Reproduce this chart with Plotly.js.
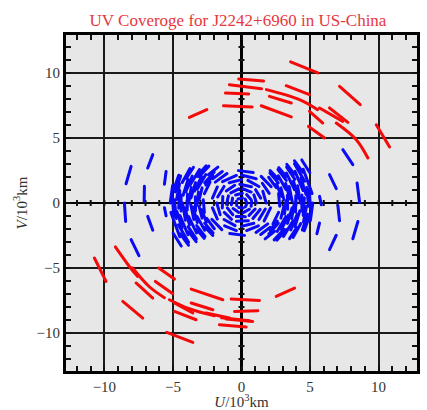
<!DOCTYPE html>
<html><head><meta charset="utf-8">
<script src="https://cdn.plot.ly/plotly-3.0.1.min.js"></script>
<style>
html,body{margin:0;padding:0;background:#fff;}
#chart{width:427px;height:410px;}
.scatterlayer path.js-line{stroke-linecap:round;}
</style>
</head><body><div id="chart"></div>
<script>
// Red tracks (long baselines), u and v in 10^3 km; null separates segments
const redU = [
  3.58,5.57,null, -0.2,1.61,null, -0.88,1.46,null, 1.82,4.23,5.55,null,
  -1.17,0.53,null, -1.31,0.78,null, 1.44,3.63,null, 2.04,3.63,null,
  3.26,4.96,null, 7.15,8.66,null, 4.96,5.93,null, 4.89,6.06,null,
  5.69,7.39,null, 6.42,7.76,null, 6.91,8.37,9.22,null, 9.83,10.8,null,
  -3.8,-2.53,null,
  -10.73,-9.88,null, -9.2,-8.18,-7.57,null, -7.96,-6.72,-5.62,null,
  -5.26,-3.8,-1.97,null, -1.46,0.58,null, -7.69,-6.47,null, -8.66,-7.2,null,
  -6.04,-4.89,null, -6.28,-5.01,null, -4.89,-3.55,null, -4.89,-3.31,null,
  -5.45,-3.55,null, -3.67,-1.36,null, -3.67,-2.09,null, -2.58,-0.88,null,
  -0.75,1.31,null, -0.51,1.19,null, -1.12,0.82,null, -1.61,0.34,null,
  2.53,3.87
];
const redV = [
  10.85,10.0,null, 9.54,9.38,null, 9.1,8.79,null, 8.72,7.95,7.18,null,
  8.46,8.38,null, 7.48,7.38,null, 7.48,6.62,null, 8.2,7.69,null,
  9.02,8.33,null, 8.97,7.56,null, 7.05,6.15,null, 5.89,5.0,null,
  7.31,6.28,null, 7.31,6.2,null, 6.15,4.87,3.46,null, 6.02,4.31,null,
  6.58,7.18,null,
  -4.23,-6.03,null, -3.38,-4.88,-5.65,null, -4.98,-6.44,-7.28,null,
  -7.44,-8.13,-8.67,null, -8.82,-9.05,null, -6.15,-7.31,null, -7.57,-8.85,null,
  -5.0,-5.85,null, -6.03,-6.98,null, -7.69,-8.46,null, -8.34,-8.98,null,
  -9.95,-10.72,null, -6.62,-7.44,null, -7.69,-8.21,null, -8.46,-8.85,null,
  -7.38,-7.49,null, -8.34,-8.28,null, -8.92,-9.11,null, -9.36,-9.54,null,
  -7.18,-6.54
];

// Blue tracks (short baselines): central rings, two lobes, outer arcs
const blueU = [
  // central rings
  0.4,0.257,null, 0.069,-0.257,null, -0.376,-0.346,null, -0.2,0.137,null, 0.283,0.394,null,
  0.705,0.375,null, 0.065,-0.43,null, -0.65,-0.739,null, -0.614,-0.194,null, 0.13,0.575,null, 0.705,0.739,null,
  1.1,0.901,null, 0.707,0.096,null, -0.191,-0.778,null, -0.953,-1.096,null, -1.034,-0.631,null, -0.376,0.285,null, 0.55,0.997,null,
  1.401,1.025,null, 0.725,-0.126,null, -0.496,-1.111,null, -1.363,-1.401,null, -1.256,-0.725,null, -0.375,0.496,null, 0.832,1.363,null,
  1.8,1.559,null, 1.273,0.466,null, 0,-0.9,null, -1.273,-1.739,null, -1.8,-1.559,null, -1.273,-0.466,null, 0,0.9,null, 1.273,1.739,null,
  2.02,1.52,null, 1.075,0,null, -0.373,-1.382,null, -1.761,-2.117,null, -2.117,-1.761,null, -1.233,-0.373,null, 0.373,1.233,null, 1.647,2.117,null,
  2.165,1.434,null, 0.855,-0.218,null, -1.057,-1.915,null, -2.165,-1.434,null, -0.855,0.218,null, 1.057,1.915,null,
  // right lobe
  2.537,1.98,null, 2.789,2.705,null, 2.293,2.705,null, 1.4,2.08,null,
  2.685,2.074,null, 3.088,2.874,null, 2.874,3.088,null, 1.993,2.685,null,
  3.233,2.679,null, 3.366,3.349,null, 2.604,3.233,null,
  3.267,2.66,null, 3.696,3.478,null, 3.352,3.682,null, 2.379,3.104,null,
  3.864,3.276,null, 3.94,3.96,null, 3.064,3.76,null,
  3.896,3.294,null, 4.3,4.089,null, 3.896,4.257,null,
  4.499,3.901,null, 4.499,4.582,null, 3.767,4.324,null,
  4.606,3.861,null, 4.895,4.753,null, 4.439,4.827,null,
  5.148,4.503,null, 5.023,5.2,null, 4.983,4.395,null,
  2.906,2.555,null, 2.086,2.605,null, 2.662,2.089,null, 3.139,3.246,null, 1.723,2.415,null,
  3.536,3.217,null, 2.907,3.429,null, 3.265,2.722,null, 3.662,3.85,null, 2.576,3.265,null,
  4.134,3.793,null, 3.594,4.059,null, 3.854,3.307,null, 4.405,4.405,null, 3.507,4.033,null,
  4.703,4.339,null, 4.518,4.743,null, 4.459,3.868,null, 5.031,4.94,null, 4.577,4.939,null,
  // left lobe
  -2.537,-1.98,null, -2.789,-2.705,null, -2.293,-2.705,null, -1.4,-2.08,null,
  -2.685,-2.074,null, -3.088,-2.874,null, -2.874,-3.088,null, -1.993,-2.685,null,
  -3.233,-2.679,null, -3.366,-3.349,null, -2.604,-3.233,null,
  -3.267,-2.66,null, -3.696,-3.478,null, -3.352,-3.682,null, -2.379,-3.104,null,
  -3.864,-3.276,null, -3.94,-3.96,null, -3.064,-3.76,null,
  -3.896,-3.294,null, -4.3,-4.089,null, -3.896,-4.257,null,
  -4.499,-3.901,null, -4.499,-4.582,null, -3.767,-4.324,null,
  -4.606,-3.861,null, -4.895,-4.753,null, -4.439,-4.827,null,
  -5.148,-4.503,null, -5.023,-5.2,null, -4.983,-4.395,null,
  -2.906,-2.555,null, -2.086,-2.605,null, -2.662,-2.089,null, -3.139,-3.246,null, -1.723,-2.415,null,
  -3.536,-3.217,null, -2.907,-3.429,null, -3.265,-2.722,null, -3.662,-3.85,null, -2.576,-3.265,null,
  -4.134,-3.793,null, -3.594,-4.059,null, -3.854,-3.307,null, -4.405,-4.405,null, -3.507,-4.033,null,
  -4.703,-4.339,null, -4.518,-4.743,null, -4.459,-3.868,null, -5.031,-4.94,null, -4.577,-4.939,null,
  // outer arcs
  7.39,8.12,null, 6.42,6.91,null, 8.43,8.61,null, 7.03,7.15,null,
  5.69,5.82,null, 5.69,5.5,null, 8.49,8.12,null, 6.91,6.42,null,
  -6.47,-6.84,null, -8.05,-8.42,null, -5.5,-5.62,null, -7.08,-7.1,null,
  -8.54,-8.45,null, -6.84,-6.47,null, -8.05,-7.48,null, -5.62,-5.5
];
const blueV = [
  0,0.306,null, 0.394,0.306,null, 0.137,-0.2,null, -0.346,-0.376,null, -0.283,-0.069,null,
  0.257,0.65,null, 0.747,0.614,null, 0.375,-0.13,null, -0.43,-0.724,null, -0.739,-0.482,null, -0.257,0.13,null,
  0,0.631,null, 0.843,1.096,null, 1.083,0.778,null, 0.55,-0.096,null, -0.376,-0.901,null, -1.034,-1.063,null, -0.953,-0.465,null,
  0.375,1.025,null, 1.256,1.445,null, 1.363,0.932,null, 0.496,-0.375,null, -0.725,-1.256,null, -1.401,-1.363,null, -1.188,-0.496,null,
  0,0.9,null, 1.273,1.739,null, 1.8,1.559,null, 1.273,0.466,null, 0,-0.9,null, -1.273,-1.739,null, -1.8,-1.559,null, -1.273,-0.466,null,
  0.735,1.52,null, 1.862,2.15,null, 2.117,1.647,null, 1.233,0.373,null, -0.373,-1.233,null, -1.761,-2.117,null, -2.117,-1.761,null, -1.382,-0.373,null,
  1.25,2.048,null, 2.349,2.49,null, 2.266,1.607,null, -1.25,-2.048,null, -2.349,-2.49,null, -2.266,-1.607,null,
  1.184,1.98,null, -0.244,0.725,null, -1.607,-0.725,null, -2.425,-1.873,null,
  1.55,2.303,null, 0.27,1.163,null, -1.163,-0.27,null, -2.375,-1.55,null,
  1.051,2.094,null, -0.473,0.592,null, -2.186,-1.051,null,
  1.735,2.572,null, 0.13,1.265,null, -1.565,-0.389,null, -2.834,-2.017,null,
  1.036,2.296,null, -0.696,0.556,null, -2.572,-1.368,null,
  1.819,2.765,null, 0,1.329,null, -1.819,-0.598,null,
  0.957,2.438,null, -0.957,0.4,null, -2.64,-1.573,null,
  1.676,3.018,null, -0.255,1.186,null, -2.073,-0.853,null,
  0.723,2.6,null, -1.347,0,null, 2.327,3.311,null,
  0.513,1.475,null, -2.086,-1.384,null, 1.864,2.49,null, -0.841,0.17,null, -2.756,-2.175,null,
  0.309,1.5,null, -2.038,-0.919,null, 2.041,2.722,null, -1.19,0,null, -2.861,-2.041,null,
  0.361,1.689,null, -2.075,-0.863,null, 2.225,2.977,null, -0.619,0.619,null, -2.74,-1.881,null,
  0.66,1.933,null, -1.468,-0.249,null, 2.368,3.246,null, -0.44,1.05,null, -2.134,-1.05,null,
  -1.184,-1.98,null, 0.244,-0.725,null, 1.607,0.725,null, 2.425,1.873,null,
  -1.55,-2.303,null, -0.27,-1.163,null, 1.163,0.27,null, 2.375,1.55,null,
  -1.051,-2.094,null, 0.473,-0.592,null, 2.186,1.051,null,
  -1.735,-2.572,null, -0.13,-1.265,null, 1.565,0.389,null, 2.834,2.017,null,
  -1.036,-2.296,null, 0.696,-0.556,null, 2.572,1.368,null,
  -1.819,-2.765,null, 0,-1.329,null, 1.819,0.598,null,
  -0.957,-2.438,null, 0.957,-0.4,null, 2.64,1.573,null,
  -1.676,-3.018,null, 0.255,-1.186,null, 2.073,0.853,null,
  -0.723,-2.6,null, 1.347,0,null, -2.327,-3.311,null,
  -0.513,-1.475,null, 2.086,1.384,null, -1.864,-2.49,null, 0.841,-0.17,null, 2.756,2.175,null,
  -0.309,-1.5,null, 2.038,0.919,null, -2.041,-2.722,null, 1.19,0,null, 2.861,2.041,null,
  -0.361,-1.689,null, 2.075,0.863,null, -2.225,-2.977,null, 0.619,-0.619,null, 2.74,1.881,null,
  -0.66,-1.933,null, 1.468,0.249,null, -2.368,-3.246,null, 0.44,-1.05,null, 2.134,1.05,null,
  4.1,2.95,null, 2.18,1.1,null, 1.54,0.06,null, -0.21,-1.36,null,
  0.51,-0.13,null, -1.54,-2.36,null, -1.42,-2.75,null, -2.48,-3.59,null,
  3.72,2.69,null, 2.82,1.48,null, 2.43,1.45,null, 1.28,0.14,null,
  0,-1.42,null, -1.03,-2.09,null, -2.82,-4.05,null, -0.36,-0.98
];

const tickVals = [-10, -5, 0, 5, 10];
const minorTicks = [-12,-11,-10,-9,-8,-7,-6,-5,-4,-3,-2,-1,1,2,3,4,5,6,7,8,9,10,11,12];

const serif = 'Liberation Serif, Times New Roman, serif';
const traces = [
  {x: blueU, y: blueV, mode: 'lines', line: {color: 'rgb(10,10,245)', width: 3}, connectgaps: false, hoverinfo: 'skip'},
  {x: redU, y: redV, mode: 'lines', line: {color: 'rgb(245,10,10)', width: 3, shape: 'spline'}, connectgaps: false, hoverinfo: 'skip'}
];

const shapes = [];
minorTicks.forEach(k => {
  shapes.push({type:'line', xref:'x', yref:'y', ysizemode:'pixel', yanchor:0, y0:-3, y1:3, x0:k, x1:k, line:{color:'#111', width:2}, layer:'between'});
  shapes.push({type:'line', xref:'x', yref:'y', xsizemode:'pixel', xanchor:0, x0:-3, x1:3, y0:k, y1:k, line:{color:'#111', width:2}, layer:'between'});
});

const axisCommon = {
  tickvals: tickVals,
  ticks: 'inside', ticklen: 5, tickwidth: 2, tickcolor: '#111',
  minor: {dtick: 1, ticks: 'inside', ticklen: 5, tickwidth: 2, tickcolor: '#111', showgrid: false},
  showline: true, linewidth: 3, linecolor: '#000', mirror: 'allticks',
  showgrid: true, gridcolor: '#1a1a1a', gridwidth: 2,
  zeroline: true, zerolinecolor: '#000', zerolinewidth: 2.5,
  tickfont: {family: serif, size: 15, color: '#333'},
  fixedrange: true
};

const layout = {
  width: 427, height: 410,
  margin: {l: 66, r: 10, t: 35, b: 39},
  paper_bgcolor: '#fff', plot_bgcolor: '#e7e7e7',
  showlegend: false,
  title: {text: 'UV Coveroge for J2242+6960 in US-China', font: {family: serif, size: 17, color: '#e8383d'},
          xref: 'paper', x: 0.49, xanchor: 'center', yref: 'container', y: 0.95, yanchor: 'middle'},
  xaxis: Object.assign({}, axisCommon, {range: [-12.8, 12.8],
    title: {text: '<i>U</i>/10<sup>3</sup>km', font: {family: serif, size: 15, color: '#333'}, standoff: 7}}),
  yaxis: Object.assign({}, axisCommon, {range: [-12.92, 12.92],
    title: {text: '<i>V</i>/10<sup>3</sup>km', font: {family: serif, size: 15, color: '#333'}, standoff: 6}}),
  shapes: shapes
};

Plotly.newPlot('chart', traces, layout, {staticPlot: true, displayModeBar: false});
</script></body></html>
